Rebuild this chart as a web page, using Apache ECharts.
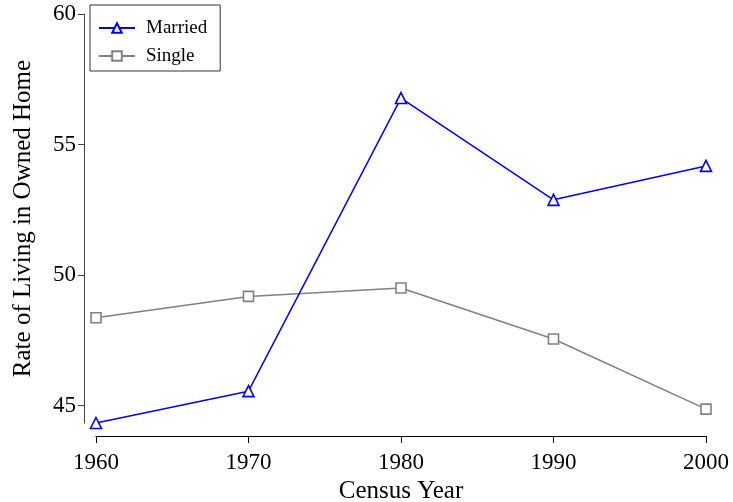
<!DOCTYPE html>
<html>
<head>
<meta charset="utf-8">
<script src="https://cdn.jsdelivr.net/npm/echarts@6/dist/echarts.min.js"></script>
<style>html,body{margin:0;padding:0;background:#fff;}#c{width:733px;height:502px;}</style>
</head>
<body>
<div id="c"></div>
<script>
const years = [1960, 1970, 1980, 1990, 2000];
const married = [44.33, 45.55, 56.78, 52.88, 54.18];
const single = [48.36, 49.18, 49.5, 47.55, 44.86];
const yTicks = [45, 50, 55, 60];
const xTicks = [1960, 1970, 1980, 1990, 2000];
const FONT = '"Liberation Serif", "DejaVu Serif", serif';

const chart = echarts.init(document.getElementById('c'), null, {renderer: 'canvas'});
chart.setOption({
  animation: false,
  backgroundColor: '#fff',
  textStyle: {fontFamily: FONT, color: '#000'},
  grid: {left: 96, right: 27, top: 14, bottom: 79, containLabel: false, outerBoundsMode: 'none'},
  legend: {
    left: 90, top: 5,
    orient: 'vertical',
    padding: [11, 13, 3, 8],
    itemGap: 4,
    itemWidth: 36, itemHeight: 12,
    backgroundColor: '#fff',
    borderColor: '#333', borderWidth: 1,
    textStyle: {fontFamily: FONT, fontSize: 19, lineHeight: 24, color: '#000', padding: [0, 0, 0, 6]},
    data: ['Married', 'Single']
  },
  xAxis: {
    type: 'value',
    min: xTicks[0], max: xTicks[xTicks.length - 1], interval: 10,
    offset: 13,
    name: 'Census Year', nameLocation: 'middle', nameGap: 39,
    nameTextStyle: {fontFamily: FONT, fontSize: 25, color: '#000'},
    axisLine: {show: true, lineStyle: {color: '#000', width: 1.2}},
    axisTick: {show: true, length: 7, lineStyle: {color: '#000'}},
    axisLabel: {fontFamily: FONT, fontSize: 23, color: '#000', margin: 15, formatter: v => String(v)},
    splitLine: {show: false}
  },
  yAxis: {
    type: 'value',
    min: married[0], max: 60,
    offset: 12,
    name: 'Rate of Living in Owned Home', nameLocation: 'middle', nameGap: 48,
    nameTextStyle: {fontFamily: FONT, fontSize: 25, color: '#000'},
    axisLine: {show: true, lineStyle: {color: '#444', width: 1}},
    axisTick: {show: true, length: 6, customValues: yTicks, lineStyle: {color: '#444'}},
    axisLabel: {fontFamily: FONT, fontSize: 23, color: '#000', margin: 8, customValues: yTicks},
    splitLine: {show: false}
  },
  series: [
    {
      name: 'Married', type: 'line',
      data: years.map((y, i) => [y, married[i]]),
      symbol: 'triangle', symbolSize: 11, showAllSymbol: true,
      lineStyle: {color: '#0000ff', width: 1.5},
      itemStyle: {color: '#fff', borderColor: '#0000ff', borderWidth: 1.6},
      z: 3
    },
    {
      name: 'Single', type: 'line',
      data: years.map((y, i) => [y, single[i]]),
      symbol: 'rect', symbolSize: 10, showAllSymbol: true,
      lineStyle: {color: '#808080', width: 1.5},
      itemStyle: {color: '#fff', borderColor: '#808080', borderWidth: 1.6},
      z: 2
    }
  ]
});
</script>
</body>
</html>
